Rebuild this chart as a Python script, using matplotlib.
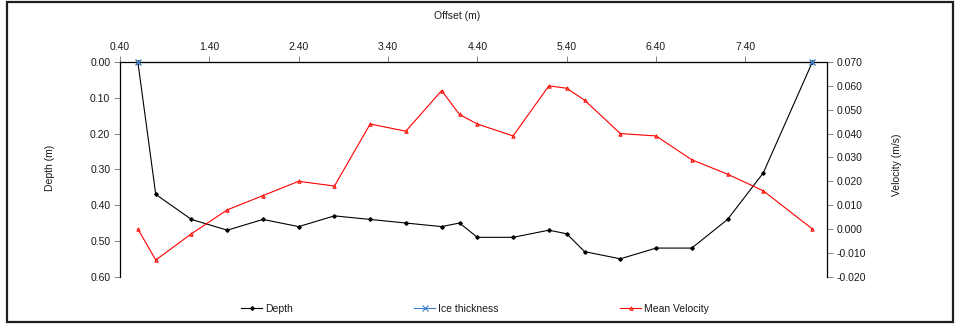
import matplotlib
matplotlib.use("Agg")
import matplotlib.pyplot as plt
from matplotlib.lines import Line2D
from matplotlib.patches import Rectangle
from matplotlib.ticker import FormatStrFormatter, FixedLocator

plt.rcParams['font.family'] = ['Liberation Sans', 'DejaVu Sans']
plt.rcParams['font.size'] = 7.5

# Survey offsets along the section (m)
offset = [0.6, 0.8, 1.2, 1.6, 2.0, 2.4, 2.8, 3.2, 3.6, 4.0, 4.2, 4.4,
          4.8, 5.2, 5.4, 5.6, 6.0, 6.4, 6.8, 7.2, 7.6, 8.15]
# Water depth at each offset (m)
depth = [0.00, 0.37, 0.44, 0.47, 0.44, 0.46, 0.43, 0.44, 0.45, 0.46, 0.45, 0.49,
         0.49, 0.47, 0.48, 0.53, 0.55, 0.52, 0.52, 0.44, 0.31, 0.00]
# Depth-averaged velocity at each offset (m/s)
mean_velocity = [0.000, -0.013, -0.002, 0.008, 0.014, 0.020, 0.018, 0.044, 0.041, 0.058, 0.048, 0.044,
                 0.039, 0.060, 0.059, 0.054, 0.040, 0.039, 0.029, 0.023, 0.016, 0.000]
# Ice thickness at the banks (m)
ice_offset = [0.6, 8.15]
ice_thickness = [0.0, 0.0]

x_ticks = [0.4, 1.4, 2.4, 3.4, 4.4, 5.4, 6.4, 7.4]
depth_ticks = [0.0, 0.1, 0.2, 0.3, 0.4, 0.5, 0.6]
vel_ticks = [-0.02, -0.01, 0.0, 0.01, 0.02, 0.03, 0.04, 0.05, 0.06, 0.07]

W, H = 956, 324
fig = plt.figure(figsize=(W / 100, H / 100), dpi=100)
left, right, top, bottom = 120, 826.7, 62, 276.7
ax = fig.add_axes([left / W, 1 - bottom / H, (right - left) / W, (bottom - top) / H])
ax2 = ax.twinx()

BLUE = '#3A7FC8'
lw = 0.8

# Depth (primary axis, inverted)
ax.plot(offset, depth, color='black', lw=lw, marker='D', ms=1.8,
        clip_on=False, zorder=3)
# Ice thickness: line sits on the top axis, markers on top
ax.plot(ice_offset, ice_thickness, color=BLUE, lw=lw, clip_on=False, zorder=2)
ax.plot(ice_offset, ice_thickness, color=BLUE, lw=0, marker='x', ms=4.5,
        mew=1.0, clip_on=False, zorder=4)
# Mean velocity (secondary axis)
ax2.plot(offset, mean_velocity, color='red', lw=lw, marker='^', ms=2.5,
         mfc='#ff6a4a', mec='red', mew=0.6, clip_on=False, zorder=3)

ax.set_xlim(0.4, 8.31)
ax.set_ylim(0.6, 0.0)
ax2.set_ylim(-0.02, 0.07)

ax.xaxis.set_major_locator(FixedLocator(x_ticks))
ax.xaxis.set_major_formatter(FormatStrFormatter('%.2f'))
ax.xaxis.tick_top()
ax.yaxis.set_major_locator(FixedLocator(depth_ticks))
ax.yaxis.set_major_formatter(FormatStrFormatter('%.2f'))
ax2.yaxis.set_major_locator(FixedLocator(vel_ticks))
ax2.yaxis.set_major_formatter(FormatStrFormatter('%.3f'))

for a in (ax, ax2):
    a.set_facecolor('none')
    a.spines['bottom'].set_visible(False)
    for s in a.spines.values():
        s.set_linewidth(0.9)
        s.set_color('black')
    a.tick_params(direction='out', length=4, width=0.6, color='#707070',
                  labelsize=7.5, labelcolor='#1a1a1a', pad=3)
ax2.spines['left'].set_visible(False)
ax2.spines['top'].set_visible(False)
ax.spines['right'].set_visible(False)

fig.text(457 / W, 1 - 16 / H, 'Offset (m)', ha='center', va='center',
         fontsize=7.5, color='#1a1a1a')
fig.text(50 / W, 1 - 168 / H, 'Depth (m)', ha='center', va='center',
         rotation=90, fontsize=7.5, color='#1a1a1a')
fig.text(897 / W, 1 - 165 / H, 'Velocity (m/s)', ha='center', va='center',
         rotation=90, fontsize=7.5, color='#1a1a1a')

handles = [
    Line2D([], [], color='black', lw=lw, marker='D', ms=1.8),
    Line2D([], [], color=BLUE, lw=lw, marker='x', ms=4, mew=0.8),
    Line2D([], [], color='red', lw=lw, marker='^', ms=2.5, mfc='#ff6a4a', mec='red', mew=0.6),
]
fig.legend(handles, ['Depth', 'Ice thickness', 'Mean Velocity'], ncol=3,
           loc='center', bbox_to_anchor=(475 / W, 1 - 309 / H), frameon=False,
           handlelength=2.0, handletextpad=0.25, columnspacing=11.7,
           numpoints=1, fontsize=7.5, labelcolor='#1a1a1a')

# Chart area border
fig.patches.append(Rectangle((7 / W, 1 - 322 / H), 946 / W, 320 / H,
                             transform=fig.transFigure, fill=False,
                             edgecolor='#1e1e1e', lw=1.6))

fig.savefig('out.png', dpi=100)
